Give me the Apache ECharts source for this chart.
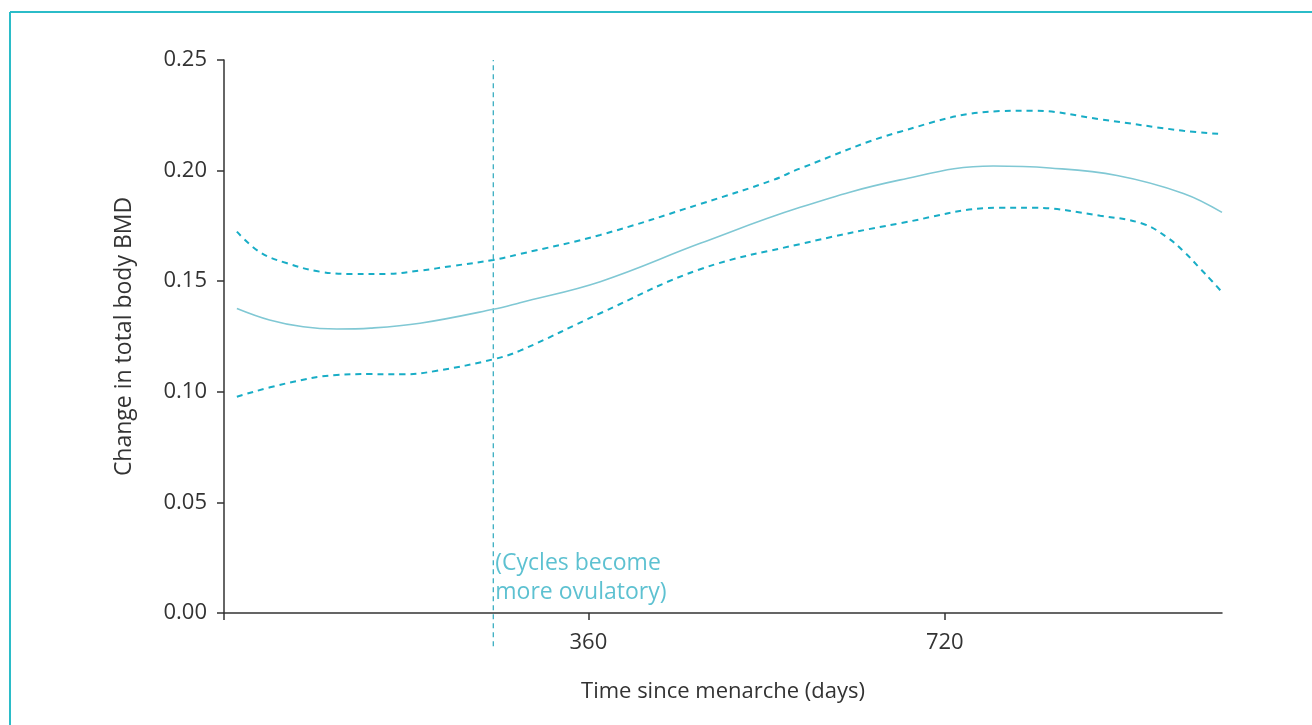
<!DOCTYPE html>
<html>
<head>
<meta charset="utf-8">
<script src="https://cdn.jsdelivr.net/npm/echarts@6/dist/echarts.min.js"></script>
<style>
  html, body { margin: 0; padding: 0; background: #fff; }
  #chart { width: 1312px; height: 725px; }
</style>
</head>
<body>
<div id="chart"></div>
<script>
// 数据：估计值
const fitDays = [5, 38, 72, 106, 140, 190, 264, 291, 372, 473, 574, 675, 769, 826, 894, 961, 1000];
const fitValues = [0.1377, 0.1325, 0.1294, 0.1284, 0.1288, 0.1310, 0.1373, 0.1403, 0.1498, 0.1671, 0.1834, 0.1958, 0.2021, 0.2012, 0.1978, 0.1897, 0.1811];

const upperDays = [5, 28, 55, 89, 122, 156, 190, 223, 264, 291, 372, 473, 547, 574, 675, 776, 809, 877, 961, 1000];
const upperValues = [0.1724, 0.1632, 0.1582, 0.1543, 0.1533, 0.1533, 0.1548, 0.1569, 0.1596, 0.1623, 0.1709, 0.1849, 0.1958, 0.2010, 0.2176, 0.2269, 0.2271, 0.2232, 0.2180, 0.2165];

const lowerDays = [5, 55, 106, 140, 173, 207, 264, 291, 372, 473, 574, 675, 776, 809, 877, 920, 944, 961, 978, 990, 1000];
const lowerValues = [0.0978, 0.1038, 0.1076, 0.1080, 0.1079, 0.1095, 0.1147, 0.1186, 0.1355, 0.1554, 0.1668, 0.1762, 0.1832, 0.1832, 0.1796, 0.1760, 0.1700, 0.1636, 0.1557, 0.1500, 0.1450];

const markerDay = 264;
const markerRange = [-0.015, 0.25];
const xTickValues = [360, 720];
const yTickLabels = ['0.00', '0.05', '0.10', '0.15', '0.20', '0.25'];

const pairs = (xs, ys) => xs.map((x, i) => [x, ys[i]]);

const chart = echarts.init(document.getElementById('chart'));

const axisColor = '#333';
const font = '"Open Sans", "Noto Sans", sans-serif';

const option = {
  animation: false,
  grid: { left: 224, right: 90, top: 60, bottom: 112 },
  xAxis: {
    type: 'value',
    min: -8,
    max: 1000,
    splitLine: { show: false },
    axisLine: { lineStyle: { color: axisColor, width: 1.5 } },
    axisTick: { length: 7, lineStyle: { color: axisColor, width: 1.5 }, customValues: [-8].concat(xTickValues) },
    axisLabel: { customValues: xTickValues, color: '#333', fontSize: 22, fontFamily: font, margin: 19 },
    name: 'Time since menarche (days)',
    nameLocation: 'middle',
    nameGap: 68,
    nameTextStyle: { color: '#333', fontSize: 22, fontFamily: font }
  },
  yAxis: {
    type: 'value',
    min: 0,
    max: 0.25,
    interval: 0.05,
    splitLine: { show: false },
    axisLine: { show: true, onZero: false, lineStyle: { color: axisColor, width: 1.5 } },
    axisTick: { show: true, length: 7, lineStyle: { color: axisColor, width: 1.5 } },
    axisLabel: {
      color: '#333', fontSize: 22, fontFamily: font, margin: 17,
      lineHeight: 26, padding: [4, 0, 0, 0], verticalAlign: 'middle',
      formatter: (v) => yTickLabels[Math.round(v / 0.05)]
    },
    name: 'Change in total body BMD',
    nameLocation: 'middle',
    nameGap: 88,
    nameTextStyle: { color: '#333', fontSize: 23, fontFamily: font }
  },
  graphic: [
    { type: 'line', shape: { x1: 10, y1: 12, x2: 10, y2: 725 }, style: { stroke: '#2bbcc8', lineWidth: 2 } },
    { type: 'line', shape: { x1: 10, y1: 12, x2: 1312, y2: 12 }, style: { stroke: '#2bbcc8', lineWidth: 2 } }
  ],
  series: [
    {
      type: 'line',
      data: pairs([markerDay, markerDay], markerRange),
      clip: false,
      symbol: 'none',
      lineStyle: { color: '#3aaec2', width: 1.3, type: [5, 4] }
    },
    {
      type: 'scatter',
      data: [[markerDay, 0.016]],
      symbolSize: 0,
      label: {
        show: true,
        position: 'right',
        distance: 2,
        formatter: '(Cycles become\nmore ovulatory)',
        color: '#35b2c6',
        fontSize: 23,
        lineHeight: 29,
        fontFamily: font
      }
    },
    {
      type: 'line',
      data: pairs(upperDays, upperValues),
      smooth: 0.4,
      symbol: 'none',
      lineStyle: { color: '#18adc6', width: 2, type: [6, 5] }
    },
    {
      type: 'line',
      data: pairs(fitDays, fitValues),
      smooth: 0.4,
      symbol: 'none',
      lineStyle: { color: '#80c8d4', width: 1.6 }
    },
    {
      type: 'line',
      data: pairs(lowerDays, lowerValues),
      smooth: 0.4,
      symbol: 'none',
      lineStyle: { color: '#18adc6', width: 2, type: [6, 5] }
    }
  ]
};

option && chart.setOption(option);
</script>
</body>
</html>
